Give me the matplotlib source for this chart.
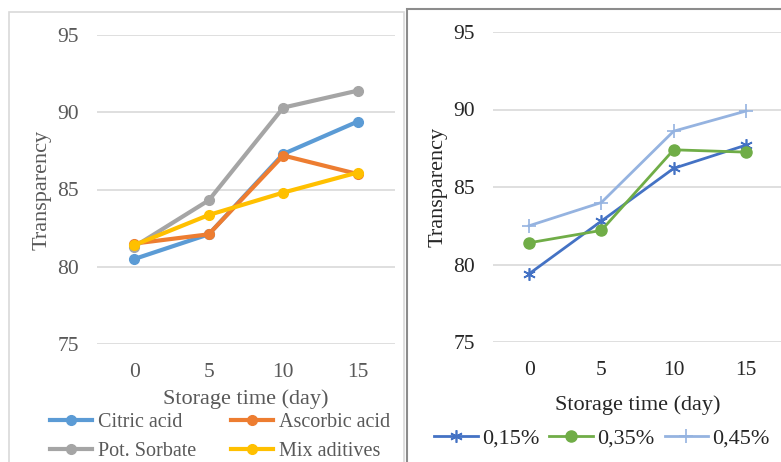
import matplotlib.pyplot as plt
from matplotlib.patches import Rectangle

# data
days = [0, 5, 10, 15]

citric_acid = [80.5, 82.1, 87.3, 89.4]
ascorbic_acid = [81.5, 82.1, 87.2, 86.0]
pot_sorbate = [81.3, 84.3, 90.3, 91.4]
mix_aditives = [81.4, 83.35, 84.8, 86.1]

conc_015 = [79.4, 82.8, 86.2, 87.7]
conc_035 = [81.4, 82.2, 87.4, 87.25]
conc_045 = [82.5, 84.0, 88.6, 89.9]

y_ticks = [75, 80, 85, 90, 95]

W, H = 781, 462
plt.rcParams["font.family"] = ["Liberation Serif", "DejaVu Serif"]

fig = plt.figure(figsize=(W / 100, H / 100), dpi=100)


def px_axes(x0, y0, x1, y1):
    return fig.add_axes([x0 / W, 1 - y1 / H, (x1 - x0) / W, (y1 - y0) / H])


def style_axes(ax, text_color, xlabel_pad):
    ax.set_xlim(-2.5, 17.5)
    ax.set_ylim(75, 95)
    ax.set_xticks(days)
    ax.set_yticks(y_ticks)
    for s in ax.spines.values():
        s.set_visible(False)
    ax.grid(axis="y", color="#d9d9d9", linewidth=1.2)
    ax.set_axisbelow(True)
    ax.tick_params(length=0, labelsize=15.5, labelcolor=text_color)
    ax.tick_params(axis="y", pad=13)
    ax.tick_params(axis="x", pad=14)
    ax.set_xlabel("Storage time (day)", fontsize=16, color=text_color, labelpad=xlabel_pad)
    ax.set_ylabel("Transparency", fontsize=16, color=text_color, labelpad=4)


# panel frames
fig.patches.append(Rectangle((9 / W, -0.05), 395 / W, 1.05 - 12 / H,
                             transform=fig.transFigure, fill=False,
                             edgecolor="#d9d9d9", linewidth=1.2))
fig.patches.append(Rectangle((407 / W, -0.05), 400 / W, 1.05 - 9 / H,
                             transform=fig.transFigure, fill=False,
                             edgecolor="#8c8c8c", linewidth=1.5))

# left chart: additives
ax1 = px_axes(97, 35, 395, 344)
style_axes(ax1, "#595959", 5)
lw, ms = 3.0, 7
l1, = ax1.plot(days, citric_acid, color="#5B9BD5", lw=lw, marker="o", ms=ms, label="Citric acid")
l2, = ax1.plot(days, ascorbic_acid, color="#ED7D31", lw=lw, marker="o", ms=ms, label="Ascorbic acid")
l3, = ax1.plot(days, pot_sorbate, color="#A5A5A5", lw=lw, marker="o", ms=ms, label="Pot. Sorbate")
l4, = ax1.plot(days, mix_aditives, color="#FFC000", lw=lw, marker="o", ms=ms, label="Mix aditives")
# ncol=2 fills by column, so order handles to get excel's row layout
fig.legend([l1, l3, l2, l4], [h.get_label() for h in [l1, l3, l2, l4]],
           ncol=2, loc="center", bbox_to_anchor=(220 / W, 1 - 437 / H),
           frameon=False, fontsize=14.5, labelcolor="#595959",
           handlelength=2.1, handletextpad=0.3, columnspacing=1.7,
           labelspacing=0.5, borderpad=0)

# right chart: concentrations
ax2 = px_axes(493, 32, 782, 342)
style_axes(ax2, "#262626", 11)
r1, = ax2.plot(days, conc_015, color="#4472C4", lw=2.0, marker=(6, 2, 0), ms=9,
               mew=1.2, label="0,15%")
r2, = ax2.plot(days, conc_035, color="#70AD47", lw=2.0, marker="o", ms=8, label="0,35%")
r3, = ax2.plot(days, conc_045, color="#95B3E0", lw=2.0, marker="+", ms=10,
               mew=1.2, label="0,45%")
fig.legend([r1, r2, r3], ["0,15%", "0,35%", "0,45%"], ncol=3, loc="center",
           bbox_to_anchor=(602 / W, 1 - 438 / H), frameon=False, fontsize=16,
           labelcolor="#262626", handlelength=1.95, handletextpad=0.2,
           columnspacing=0.45, borderpad=0)

fig.savefig("out.png", dpi=100)
